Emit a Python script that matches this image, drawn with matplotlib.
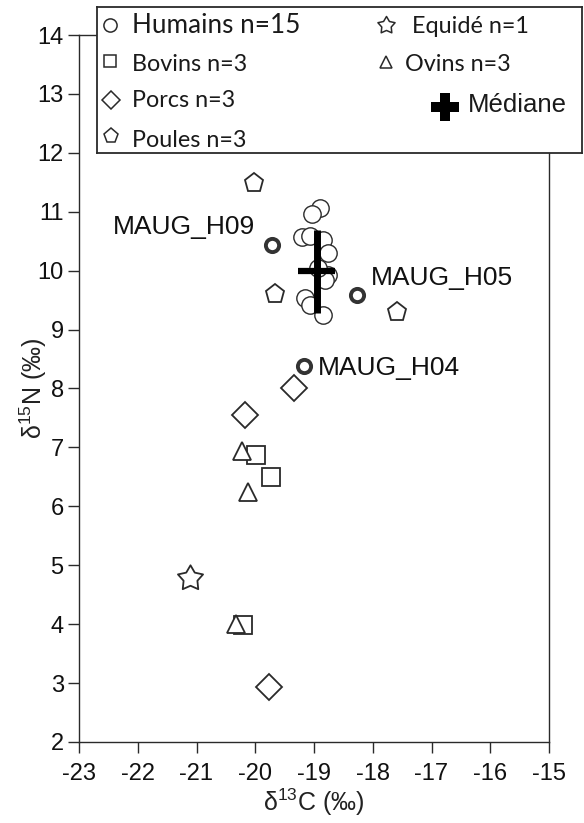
import matplotlib
matplotlib.use("Agg")
import matplotlib.pyplot as plt
from matplotlib.path import Path

plt.rcParams['font.family'] = ['Liberation Sans', 'DejaVu Sans']
plt.rcParams['axes.unicode_minus'] = False

# ---------------- data ----------------
hum_c = [-18.90, -19.04, -19.21, -19.07, -18.84, -18.76, -18.76, -18.81,
         -19.15, -19.07, -18.84, -18.93]
hum_n = [11.06, 10.97, 10.57, 10.59, 10.52, 10.30, 9.93, 9.84,
         9.53, 9.41, 9.25, 10.05]
lab_names = ["MAUG_H09", "MAUG_H05", "MAUG_H04"]
lab_c = [-19.72, -18.26, -19.17]
lab_n = [10.44, 9.59, 8.38]

bov_c = [-19.98, -19.74, -20.21]
bov_n = [6.87, 6.50, 3.98]
porc_c = [-19.34, -20.17, -19.76]
porc_n = [8.01, 7.55, 2.94]
poul_c = [-20.02, -19.66, -17.59]
poul_n = [11.49, 9.60, 9.29]
ovin_c = [-20.23, -20.12, -20.32]
ovin_n = [6.94, 6.24, 4.01]
equi_c = [-21.11]
equi_n = [4.79]

med_c = -18.95
med_n = 10.0
med_c_range = [-19.27, -18.64]
med_n_range = [9.28, 10.69]

x_ticks = [-23, -22, -21, -20, -19, -18, -17, -16, -15]
y_ticks = [2, 3, 4, 5, 6, 7, 8, 9, 10, 11, 12, 13, 14]

legend_left = ["Humains n=15", "Bovins n=3", "Porcs n=3", "Poules n=3"]
legend_right = ["Equidé n=1", "Ovins n=3", "Médiane"]

# ---------------- style ----------------
EC = '#2a2a2a'
star_path = Path.unit_regular_star(5, 0.55)

W, H = 584, 823
fig = plt.figure(figsize=(W / 100, H / 100), dpi=100)
ax = fig.add_axes([79 / W, 1 - 742 / H, (549 - 79) / W, (742 - 35) / H])
ax.set_xlim(-23, -15)
ax.set_ylim(2, 14)
for s in ax.spines.values():
    s.set_linewidth(1.0)
    s.set_color(EC)
ax.set_xticks(x_ticks)
ax.set_yticks(y_ticks)
ax.tick_params(direction='out', length=8, width=1.0, color=EC,
               labelsize=17, labelcolor='#111111')
ax.tick_params(axis='y', pad=3)
ax.tick_params(axis='x', pad=7)
ax.set_xlabel(r'$\mathregular{δ^{13}}$C (‰)', fontsize=18, labelpad=1, color='#222222')
ax.set_ylabel(r'$\mathregular{δ^{15}}$N (‰)', fontsize=18, color='#222222')
ax.yaxis.label.set_verticalalignment('center')
ax.yaxis.set_label_coords(-0.098, 0.5)

common = dict(linestyle='none', markerfacecolor='white', markeredgecolor=EC)
ax.plot(bov_c, bov_n, marker='s', markersize=13, markeredgewidth=1.3, zorder=3, **common)
ax.plot(porc_c, porc_n, marker='D', markersize=13, markeredgewidth=1.3, zorder=3, **common)
ax.plot(ovin_c, ovin_n, marker='^', markersize=13, markeredgewidth=1.3, zorder=3, **common)
ax.plot(poul_c, poul_n, marker='p', markersize=14, markeredgewidth=1.3, zorder=3, **common)
ax.plot(equi_c, equi_n, marker=star_path, markersize=19, markeredgewidth=1.3, zorder=3, **common)
ax.plot(hum_c, hum_n, marker='o', markersize=12.5, markeredgewidth=1.0, zorder=4, **common)
ax.plot(lab_c, lab_n, marker='o', markersize=9.5, markeredgewidth=2.8, zorder=4,
        linestyle='none', markerfacecolor='white', markeredgecolor='#333333')

# median cross
ax.plot(med_c_range, [med_n, med_n], color='black', lw=4.5, solid_capstyle='butt', zorder=6)
ax.plot([med_c, med_c], med_n_range, color='black', lw=5, solid_capstyle='butt', zorder=6)

# labels
offsets = [(-12, 13, 'right'), (10, 12, 'left'), (10, -1, 'left')]
for name, c, n, (dx, dy, ha) in zip(lab_names, lab_c, lab_n, offsets):
    ax.annotate(name, (c, n), xytext=(dx, dy), textcoords='offset points',
                ha=ha, va='center', fontsize=19, color='#111111')

# ---------------- legend box ----------------
bx0, by0, bx1, by1 = 97, 7, 582, 153
lax = fig.add_axes([bx0 / W, 1 - by1 / H, (bx1 - bx0) / W, (by1 - by0) / H])
lax.set_xlim(0, bx1 - bx0)
lax.set_ylim(by1 - by0, 0)
lax.set_xticks([])
lax.set_yticks([])
lax.set_facecolor('white')
for s in lax.spines.values():
    s.set_linewidth(1.3)
    s.set_color(EC)

lfont = ['Lato', 'DejaVu Sans']
leg_markers = [('o', 9.5, 13, 18), ('s', 8.5, 13, 54), ('D', 9, 14, 93), ('p', 11, 14, 129)]
leg_text_y = [26, 64, 100, 140]
leg_sizes = [18.8, 16.8, 16.8, 16.8]
for (m, ms, x, y), txt, ty, fs in zip(leg_markers, legend_left, leg_text_y, leg_sizes):
    lax.plot([x], [y], marker=m, markersize=ms, markeredgewidth=1.1,
             linestyle='none', markerfacecolor='white', markeredgecolor=EC)
    lax.text(35, ty, txt, fontsize=fs, family=lfont, va='baseline', ha='left', color='#1a1a1a')

lax.plot([289], [18], marker=star_path, markersize=13, markeredgewidth=1.1,
         linestyle='none', markerfacecolor='white', markeredgecolor=EC)
lax.text(315, 26, legend_right[0], fontsize=16.8, family=lfont, va='baseline', color='#1a1a1a')
lax.plot([289], [55], marker='^', markersize=9, markeredgewidth=1.1,
         linestyle='none', markerfacecolor='white', markeredgecolor=EC)
lax.text(308, 64, legend_right[1], fontsize=16.8, family=lfont, va='baseline', color='#1a1a1a')
lax.plot([348], [100], marker='P', markersize=20, markeredgewidth=0,
         linestyle='none', color='black')
lax.text(371, 105, legend_right[2], fontsize=18.5, va='baseline', color='#1a1a1a')

fig.savefig('out.png', dpi=100)
